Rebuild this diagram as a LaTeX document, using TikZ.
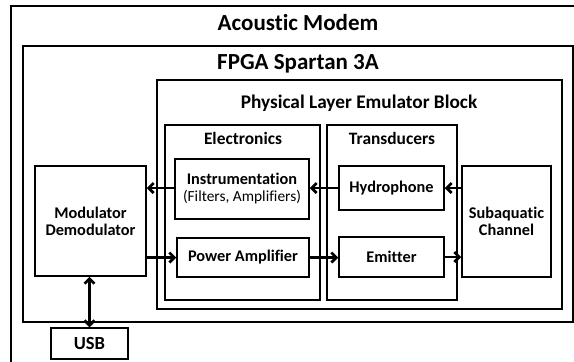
\documentclass[tikz,border=0pt]{standalone}
\usepackage{fontspec}
\setmainfont[Ligatures={NoCommon}]{Carlito}
\usetikzlibrary{positioning,arrows.meta}
\newcommand\notefont{\mdseries\fontsize{15.4}{16}\selectfont}

\begin{document}
\begin{tikzpicture}[
      x=1pt, y=-1pt,
      font=\bfseries\fontsize{16.3}{17}\selectfont,
      blk/.style={draw, line width=1.5pt, align=center, inner sep=0pt},
      frame/.style={draw, line width=1.6pt},
      ttl/.style={font=\bfseries\fontsize{23}{26}\selectfont},
      sub/.style={font=\bfseries\fontsize{17.4}{20}\selectfont},
      arr/.style={-{Straight Barb[length=5pt, width=10pt]}, line width=2.7pt},
      darr/.style={{Straight Barb[length=5pt, width=10pt]}-{Straight Barb[length=5pt, width=10pt]}, line width=2.7pt}
    ]
    \useasboundingbox (0,0) rectangle (574,362);
    \clip (0,0) rectangle (574,362);

    % nested frames
    \draw[frame] (11,6) rectangle (590,380);
    \draw[frame] (23,46) rectangle (573,322);
    \draw[frame] (157,80) rectangle (562,309);
    \draw[frame] (165,125) rectangle (320,300);
    \draw[frame] (327,125) rectangle (457,300);

    \node[ttl] (modemtitle) at (298,23) {Acoustic Modem};
    \node[ttl] (fpgatitle) at (298,64) {FPGA Spartan 3A};
    \node[sub, font=\bfseries\fontsize{19.3}{22}\selectfont] (pletitle) at (359,103) {Physical Layer Emulator Block};
    \node[sub] (electitle) at (243,138) {Electronics};
    \node[sub] (transtitle) at (392,138) {Transducers};

    % blocks
    \node[blk, minimum width=111pt, minimum height=110pt] (moddem) at (90.5,221) {Modulator\\Demodulator};
    \node[blk, minimum width=134pt, minimum height=60pt] (instr) at (242,189)
      {Instrumentation\\{\notefont (Filters, Amplifiers)}};
    \node[blk, minimum width=132pt, minimum height=39pt] (power) at (243,257.5) {Power Amplifier};
    \node[blk, minimum width=105pt, minimum height=44pt] (hydro) at (391.5,188) {Hydrophone};
    \node[blk, minimum width=105pt, minimum height=40pt] (emitter) at (391.5,257) {Emitter};
    \node[blk, minimum width=89pt, minimum height=111pt] (subaq) at (506.5,221.5) {Subaquatic\\Channel};
    \node[blk, minimum width=77pt, minimum height=31pt, font=\bfseries\fontsize{18.5}{20}\selectfont] (usb) at (89.5,343.5) {USB};

    % signal flow
    \draw[arr] (instr.west |- hydro.west) -- (moddem.east |- hydro.west);
    \draw[arr] (moddem.east |- power.west) -- (power.west);
    \draw[arr] (hydro.west) -- (instr.east |- hydro.west);
    \draw[arr] (subaq.west |- hydro.east) -- (hydro.east);
    \draw[arr] (power.east) -- (emitter.west |- power.east);
    \draw[arr] (emitter.east) -- (subaq.west |- emitter.east);
    \draw[darr] (usb.north) -- (usb.north |- moddem.south);
  \end{tikzpicture}
\end{document}
